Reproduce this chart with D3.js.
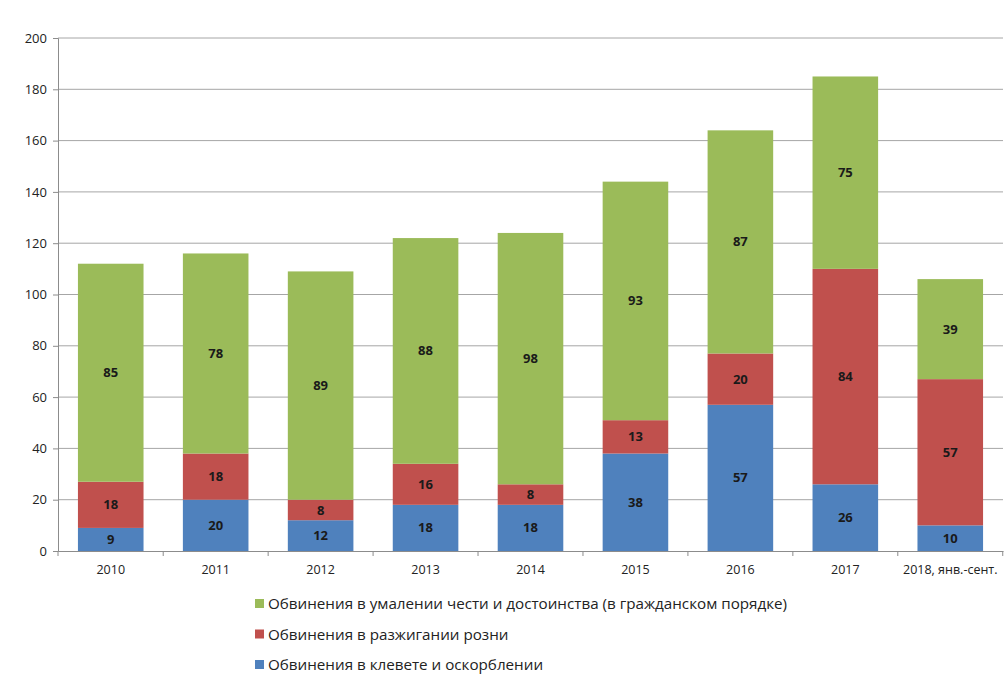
<!DOCTYPE html>
<html><head><meta charset="utf-8">
<script src="https://cdn.jsdelivr.net/npm/d3@7/dist/d3.min.js"></script>
<style>body{margin:0;background:#fff;} svg{display:block;}</style>
</head><body>
<svg id="c" width="1006" height="675"></svg>
<script>
const categories = ["2010","2011","2012","2013","2014","2015","2016","2017","2018, янв.-сент."];
const slander = [9,20,12,18,18,38,57,26,10];
const incitement = [18,18,8,16,8,13,20,84,57];
const honor = [85,78,89,88,98,93,87,75,39];
const yTicks = [0,20,40,60,80,100,120,140,160,180,200];
const seriesNames = ["Обвинения в клевете и оскорблении","Обвинения в разжигании розни","Обвинения в умалении чести и достоинства (в гражданском порядке)"];
const colors = ["#4F81BD","#C0504D","#9BBB59"];

const svg = d3.select("#c");
const font = "'Open Sans', 'Noto Sans', sans-serif";
const m = {l:58, r:3, t:38, b:124};
const W = 1006, H = 675;
const x = d3.scaleBand().domain(categories).range([m.l, W-m.r]).paddingInner(0.375).paddingOuter(0.19);
const y = d3.scaleLinear().domain([0,200]).range([551,38]);

// gridlines
svg.append("g").selectAll("line").data(yTicks.slice(1)).join("line")
  .attr("x1", m.l).attr("x2", W-m.r).attr("y1", d=>y(d)).attr("y2", d=>y(d))
  .attr("stroke","#a6a6a6").attr("stroke-width",1);

const data = categories.map((c,i)=>({cat:c, vals:[slander[i],incitement[i],honor[i]]}));
const stack = d3.stack().keys([0,1,2]).value((d,k)=>d.vals[k]);
const stacked = stack(data);

const g = svg.append("g");
stacked.forEach((s,k)=>{
  g.selectAll(null).data(s).join("rect")
    .attr("x", d=>x(d.data.cat)).attr("width", x.bandwidth())
    .attr("y", d=>y(d[1])).attr("height", d=>y(d[0])-y(d[1]))
    .attr("fill", colors[k]);
  g.selectAll(null).data(s).join("text")
    .attr("x", d=>x(d.data.cat)+x.bandwidth()/2)
    .attr("y", d=>(y(d[0])+y(d[1]))/2)
    .attr("dy","0.35em").attr("text-anchor","middle")
    .attr("font-family", font).attr("font-size", 13).attr("font-weight","bold")
    .attr("fill","#1a1a1a")
    .text(d=>d.data.vals[k]);
});

// y axis
const ya = svg.append("g").attr("transform",`translate(${m.l},0)`)
  .call(d3.axisLeft(y).tickValues(yTicks).tickSize(5).tickPadding(6));
ya.select(".domain").attr("stroke","#8c8c8c");
ya.selectAll(".tick line").attr("stroke","#8c8c8c");
ya.selectAll("text").attr("font-family",font).attr("font-size",13).attr("fill","#222");

// x axis
const xa = svg.append("g").attr("transform",`translate(0,${y(0)})`)
  .call(d3.axisBottom(x).tickSize(0).tickPadding(14));
xa.select(".domain").attr("stroke","#8c8c8c");
xa.selectAll("text").attr("font-family",font).attr("font-size",12.5).attr("fill","#222");
const step = x.step();
xa.selectAll(".sep").data([m.l].concat(categories.map(c=>x(c)+x.bandwidth()+ (step - x.bandwidth())/2))).join("line")
  .attr("x1",d=>d).attr("x2",d=>d).attr("y1",0).attr("y2",5).attr("stroke","#8c8c8c");

// legend
const legendOrder = [2,1,0];
const lg = svg.append("g");
legendOrder.forEach((k,i)=>{
  const ly = 604 + i*30.5;
  lg.append("rect").attr("x",255).attr("y",ly-5).attr("width",9).attr("height",9).attr("fill",colors[k]);
  lg.append("text").attr("x",268).attr("y",ly).attr("dy","0.35em")
    .attr("font-family",font).attr("font-size",15.2).attr("fill","#222").text(seriesNames[k]);
});
</script>
</body></html>
